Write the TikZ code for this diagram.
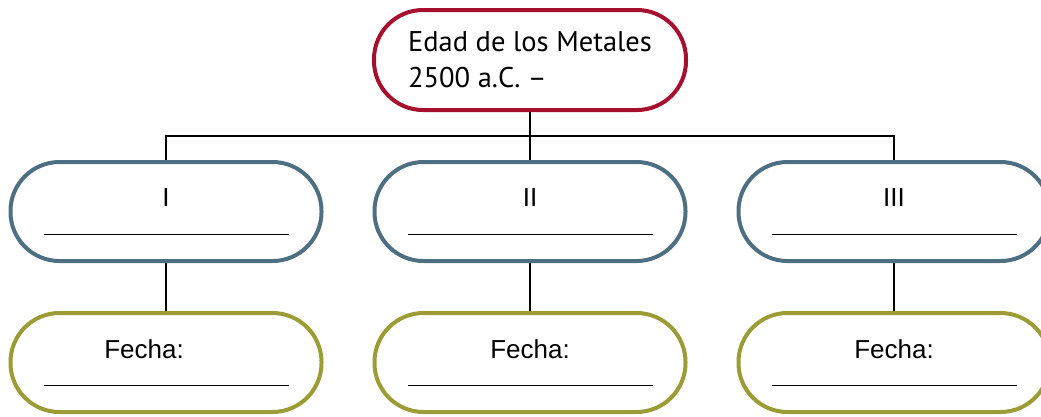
\documentclass[tikz,border=0pt]{standalone}
\usepackage{fontspec}
\usepackage{xcolor}
\usetikzlibrary{positioning}
\setmainfont{Liberation Sans}
\newfontfamily\titlefont{PT Sans}
\definecolor{topred}{RGB}{166,15,45}
\definecolor{erablue}{RGB}{78,110,130}
\definecolor{dateolive}{RGB}{156,156,55}
\tikzset{
  box/.style={draw, line width=4pt, minimum width=311pt, minimum height=99pt, rounded corners=49pt, inner sep=0pt},
  erabox/.style={box, draw=erablue},
  datebox/.style={box, draw=dateolive},
  tag/.style={font=\fontsize{26}{30}\selectfont, anchor=base},
  blank/.style={line width=1.3pt},
  wire/.style={line width=1.5pt}
}
\begin{document}
\begin{tikzpicture}[node distance=48pt and 49pt]
\useasboundingbox (0pt,0pt) rectangle (1041pt,-416pt);
\node[box, draw=topred, minimum width=312pt, minimum height=100pt, align=left, font=\titlefont\fontsize{28.5}{36}\selectfont] (metales) at (530pt,-60pt) {Edad de los Metales\\2500 a.C. –};

\node[erabox, below=of metales] (era2) {};
\node[erabox, left=of era2] (era1) {};
\node[erabox, right=of era2] (era3) {};

\node[datebox, below=of era1] (date1) {};
\node[datebox, below=of era2] (date2) {};
\node[datebox, below=of era3] (date3) {};

% textos
\node[tag] (name1) at ([yshift=5.5pt]era1.center) {I};
\node[tag] (name2) at ([yshift=5.5pt]era2.center) {II};
\node[tag] (name3) at ([yshift=5.5pt]era3.center) {III};
\node[tag] (fecha1) at ([xshift=-22pt,yshift=4pt]date1.center) {Fecha:};
\node[tag] (fecha2) at ([yshift=4pt]date2.center) {Fecha:};
\node[tag] (fecha3) at ([yshift=4pt]date3.center) {Fecha:};

% lineas para escribir
\foreach \b in {era1,era2,era3,date1,date2,date3}
  \draw[blank] ([xshift=-122.5pt,yshift=-23pt]\b.center) -- ++(245pt,0pt);

% conectores
\draw[wire] (metales.south) -- ++(0pt,-24pt) coordinate (hub);
\draw[wire] (era1.north) |- (hub) -| (era3.north);
\draw[wire] (hub) -- (era2.north);
\draw[wire] (era1) -- (date1);
\draw[wire] (era2) -- (date2);
\draw[wire] (era3) -- (date3);
\end{tikzpicture}
\end{document}
